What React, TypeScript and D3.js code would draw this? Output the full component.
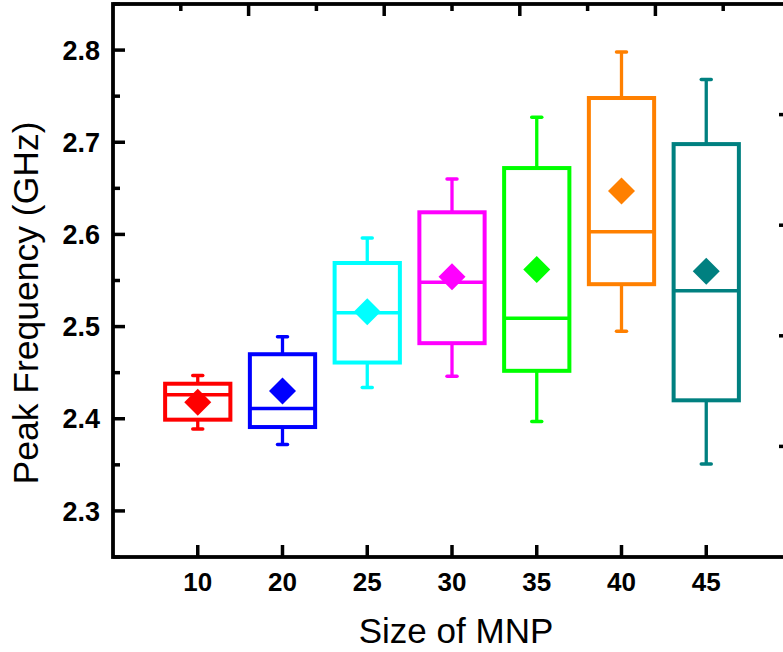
import React from "react";
import * as d3 from "d3";

// box plot values
const categories = ["10", "20", "25", "30", "35", "40", "45"];
const whiskerHigh = [2.447, 2.489, 2.596, 2.66, 2.727, 2.798, 2.768];
const q3 = [2.438, 2.47, 2.569, 2.624, 2.672, 2.748, 2.698];
const median = [2.426, 2.411, 2.515, 2.548, 2.509, 2.603, 2.539];
const q1 = [2.399, 2.391, 2.461, 2.482, 2.452, 2.546, 2.42];
const whiskerLow = [2.389, 2.372, 2.434, 2.446, 2.397, 2.495, 2.351];
const mean = [2.418, 2.43, 2.516, 2.554, 2.562, 2.647, 2.56];
const colors = ["#ff0000", "#0000ff", "#00ffff", "#ff00ff", "#00ff00", "#ff8000", "#008080"];
const yTicks = [2.3, 2.4, 2.5, 2.6, 2.7, 2.8];

const W = 783;
const H = 652;
const left = 113;
const right = 791;
const top = 4;
const bottom = 557;
const font = "'Liberation Sans', Arial, sans-serif";

export default function App() {
  const x = d3.scalePoint<string>().domain(categories).range([left, right]).padding(1);
  const y = d3.scaleLinear().domain([2.25, 2.85]).range([bottom, top]);
  // top and right frame axes carry their own unlabeled ticks
  const xTop = d3.scaleLinear().domain([0, 5]).range([left, right]);
  const yRight = d3.scaleLinear().domain([0, 5]).range([bottom, top]);

  const boxW = x.step() * 0.77;
  const diamond = (cx: number, cy: number, r: number) =>
    `M${cx},${cy - r}L${cx + r},${cy}L${cx},${cy + r}L${cx - r},${cy}Z`;

  const halfSteps = d3.range(1, 10).map((d) => d / 2);
  const minorY = d3.range(2.25, 2.86, 0.1).map((d) => +d.toFixed(2));

  return (
    <div style={{ position: "absolute", left: 0, top: 0 }}>
      <svg width={W} height={H} style={{ display: "block", background: "#fff" }}>
        {/* boxes */}
        {categories.map((c, i) => {
          const cx = x(c)!;
          return (
            <g key={c} stroke={colors[i]} fill="none">
              <line x1={cx} x2={cx} y1={y(whiskerHigh[i])} y2={y(q3[i])} strokeWidth={3.3} />
              <line x1={cx} x2={cx} y1={y(q1[i])} y2={y(whiskerLow[i])} strokeWidth={3.3} />
              <line x1={cx - 5} x2={cx + 5} y1={y(whiskerHigh[i])} y2={y(whiskerHigh[i])} strokeWidth={3.5} strokeLinecap="round" />
              <line x1={cx - 5} x2={cx + 5} y1={y(whiskerLow[i])} y2={y(whiskerLow[i])} strokeWidth={3.5} strokeLinecap="round" />
              <rect
                x={cx - boxW / 2}
                y={y(q3[i])}
                width={boxW}
                height={y(q1[i]) - y(q3[i])}
                strokeWidth={4}
              />
              <line x1={cx - boxW / 2} x2={cx + boxW / 2} y1={y(median[i])} y2={y(median[i])} strokeWidth={3.5} />
              <path d={diamond(cx, y(mean[i]), 13.5)} fill={colors[i]} stroke="none" />
            </g>
          );
        })}

        {/* frame */}
        <rect x={left} y={top} width={right - left} height={bottom - top} fill="none" stroke="#000" strokeWidth={3.8} />

        {/* left axis */}
        {yTicks.map((t) => (
          <g key={t}>
            <line x1={left} x2={left + 12} y1={y(t)} y2={y(t)} stroke="#000" strokeWidth={3.5} />
            <text x={100} y={y(t)} dy="0.36em" textAnchor="end" fontFamily={font} fontWeight="bold" fontSize={27}>
              {t.toFixed(1)}
            </text>
          </g>
        ))}
        {minorY.map((t) => (
          <line key={"m" + t} x1={left} x2={left + 7} y1={y(t)} y2={y(t)} stroke="#000" strokeWidth={3.5} />
        ))}

        {/* bottom axis */}
        {categories.map((c) => (
          <g key={"b" + c}>
            <line x1={x(c)} x2={x(c)} y1={bottom} y2={bottom - 12} stroke="#000" strokeWidth={3.5} />
            <text x={x(c)} y={591} textAnchor="middle" fontFamily={font} fontWeight="bold" fontSize={26}>
              {c}
            </text>
          </g>
        ))}

        {/* top and right axes */}
        {halfSteps.map((t) => {
          const major = Number.isInteger(t);
          const len = major ? 12 : 7;
          return (
            <g key={"t" + t} stroke="#000" strokeWidth={3.5}>
              <line x1={xTop(t)} x2={xTop(t)} y1={top} y2={top + len} />
              <line x1={right} x2={right - len} y1={yRight(t)} y2={yRight(t)} />
            </g>
          );
        })}

        {/* titles */}
        <text x={456} y={643} textAnchor="middle" fontFamily={font} fontSize={35}>
          Size of MNP
        </text>
        <text transform={`translate(38, ${303}) rotate(-90)`} textAnchor="middle" fontFamily={font} fontSize={35.5}>
          Peak Frequency (GHz)
        </text>
      </svg>
    </div>
  );
}
